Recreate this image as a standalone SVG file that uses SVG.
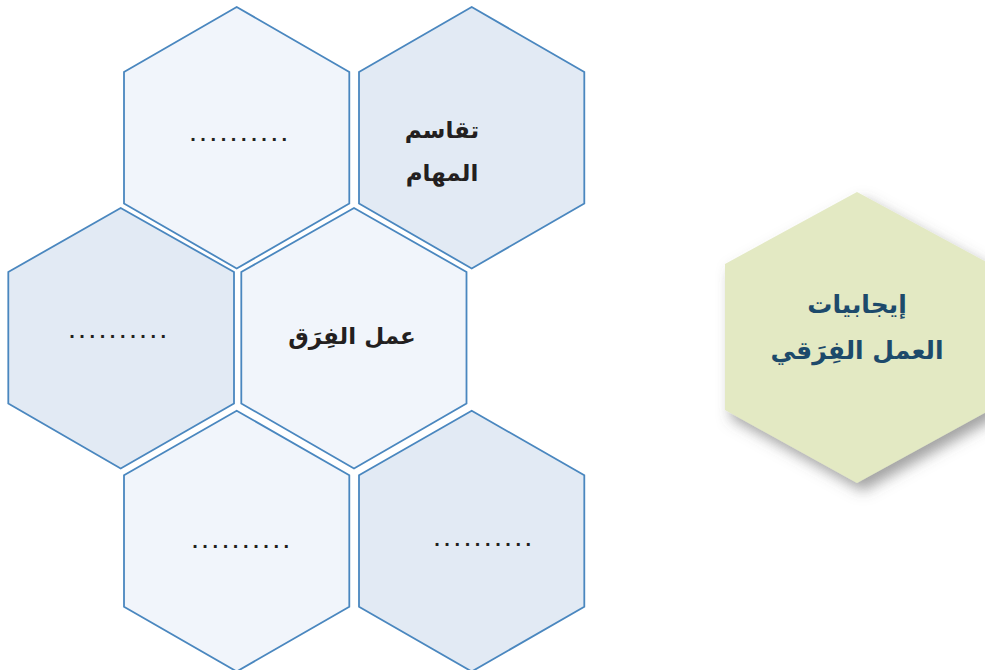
<svg xmlns="http://www.w3.org/2000/svg" width="985" height="670" viewBox="0 0 985 670">
<style>
.hex{stroke:#4a87bf;stroke-width:1.8;stroke-linejoin:miter}
.l{fill:#f1f5fb}
.d{fill:#e2eaf4}
.t{font-family:"DejaVu Sans","Noto Sans",sans-serif;font-weight:bold;font-size:23px;fill:#231f20;text-anchor:middle}
.dots{font-family:"Liberation Sans",sans-serif;font-weight:bold;font-size:20px;fill:#231f20;letter-spacing:4.6px;text-anchor:middle}
.g{font-family:"DejaVu Sans","Noto Sans",sans-serif;font-weight:bold;font-size:25px;fill:#1d4a6b;text-anchor:middle}
</style>
<defs>
<filter id="sh" x="-20%" y="-20%" width="150%" height="150%">
<feDropShadow dx="6" dy="8" stdDeviation="7" flood-color="#555" flood-opacity="0.55"/>
</filter>
</defs>
<rect width="985" height="670" fill="#ffffff"/>
<g id="hex-top-left">
<polygon class="hex l" points="236.7,7 349.3,72 349.3,203.5 236.7,268.5 124,203.5 124,72"/>
<text class="dots" x="241" y="141">..........</text>
</g>
<g id="hex-top-right">
<polygon class="hex d" points="471.7,7 584.3,72 584.3,203.5 471.7,268.5 359,203.5 359,72"/>
<text class="t" x="442" y="138">تقاسم</text>
<text class="t" x="442" y="181">المهام</text>
</g>
<g id="hex-mid-left">
<polygon class="hex d" points="120.7,208 234,272 234,403.5 120.7,468.5 8.3,403.5 8.3,272"/>
<text class="dots" x="120" y="338">..........</text>
</g>
<g id="hex-center">
<polygon class="hex l" points="354,208 466.5,272 466.5,403.5 354,468.5 241.3,403.5 241.3,272"/>
<text class="t" x="352" y="344">عمل الفِرَق</text>
</g>
<g id="hex-bottom-left">
<polygon class="hex l" points="236.7,410.7 349.3,475.3 349.3,606.7 236.7,671.5 124,606.7 124,475.3"/>
<text class="dots" x="243" y="548">..........</text>
</g>
<g id="hex-bottom-right">
<polygon class="hex d" points="471.7,410.7 584.3,475.3 584.3,606.7 471.7,671.5 359,606.7 359,475.3"/>
<text class="dots" x="485" y="546">..........</text>
</g>
<g id="hex-title">
<polygon points="857,192 990,264 990,410 857,483 725,410 725,264" fill="#e3e9c3" filter="url(#sh)"/>
<text class="g" x="857" y="313">إيجابيات</text>
<text class="g" x="857" y="359">العمل الفِرَقي</text>
</g>
<g id="connectors"></g>
</svg>
